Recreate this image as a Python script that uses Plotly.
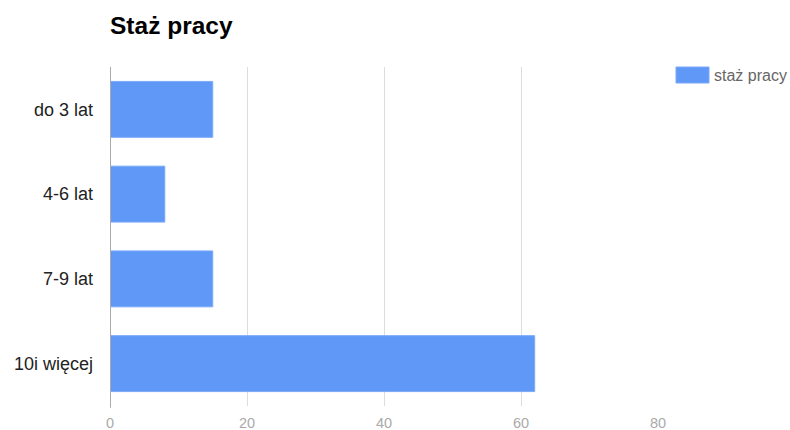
import plotly.graph_objects as go

categories = ["do 3 lat", "4-6 lat", "7-9 lat", "10i więcej"]
values = [15, 8, 15, 62]
series_name = "staż pracy"
title_text = "Staż pracy"
x_ticks = [0, 20, 40, 60, 80]

bar_color = "#5f98f6"

W, H = 790, 430
L, T = 110, 67
PW, PH = 548, 339

fig = go.Figure()
fig.add_trace(go.Bar(
    y=categories, x=values, orientation="h", name=series_name,
    marker=dict(color=bar_color, line=dict(color="#7aaaf8", width=1)),
    showlegend=False,
))

fig.update_layout(
    width=W, height=H,
    margin=dict(l=L, r=W - L - PW, t=T, b=H - T - PH, autoexpand=False),
    paper_bgcolor="white", plot_bgcolor="white",
    bargap=0.34,
    font=dict(family="Liberation Sans, Arial, sans-serif", size=18, color="#222222"),
    title=dict(text="<b>" + title_text + "</b>", x=L / W, xanchor="left",
               y=1 - 25 / H, yanchor="middle",
               font=dict(size=24.5, color="#000000")),
    xaxis=dict(range=[0, 80], tickvals=x_ticks, showgrid=True, gridcolor="#dddddd",
               gridwidth=1, zeroline=False, showline=False, ticklabelstandoff=6,
               automargin=False,
               tickfont=dict(size=14.5, color="#aaaaaa"), ticks="", fixedrange=True),
    yaxis=dict(autorange="reversed", showgrid=False, zeroline=False, showline=False,
               automargin=False, fixedrange=True,
               ticks="", ticklabelstandoff=16, tickfont=dict(size=18, color="#222222")),
    shapes=[
        dict(type="line", xref="x", yref="paper", x0=0, x1=0, y0=-0.005, y1=1.0,
             line=dict(color="#aaaaaa", width=2)),
        dict(type="rect", xref="paper", yref="paper", x0=(676 - 110) / PW, x1=(709 - 110) / PW,
             y0=(406 - 83) / PH, y1=(406 - 67) / PH, fillcolor=bar_color,
             line=dict(color="#7aaaf8", width=1)),
    ],
    annotations=[
        dict(text=series_name, xref="paper", yref="paper", x=(712 - 110) / PW,
             y=(406 - 75) / PH, xanchor="left", yanchor="middle", showarrow=False,
             font=dict(size=16, color="#666666")),
    ],
)

fig.write_html("out.html", config={"displayModeBar": False},
               post_script="document.body.style.margin='0';document.body.style.overflow='hidden';")
